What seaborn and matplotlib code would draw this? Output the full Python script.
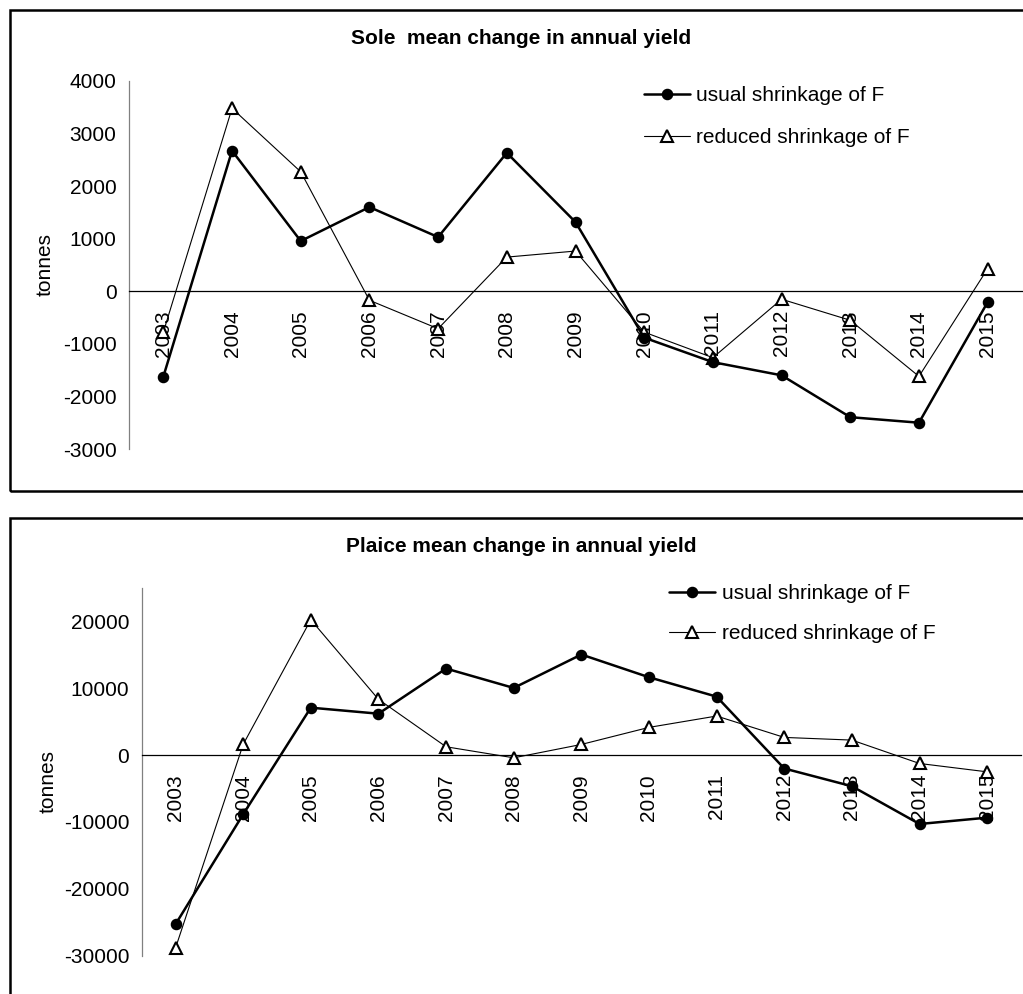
import numpy as np
import pandas as pd
import seaborn as sns
import matplotlib.pyplot as plt
from matplotlib.patches import Rectangle

YEARS = [str(y) for y in range(2003, 2016)]

# Sole, tonnes
sole_usual = [-1620, 2670, 955, 1600, 1030, 2630, 1315, -880, -1345, -1595, -2390, -2495, -205]
sole_reduced = [-775, 3475, 2270, -170, -710, 650, 765, -775, -1260, -150, -550, -1615, 430]

# Plaice, tonnes
plaice_usual = [-25300, -8850, 7100, 6200, 12950, 10050, 15050, 11650, 8750, -2000, -4650, -10300, -9350]
plaice_reduced = [-28850, 1600, 20250, 8350, 1250, -400, 1600, 4150, 5850, 2650, 2250, -1250, -2500]

LABELS = ["usual shrinkage of F", "reduced shrinkage of F"]

sns.set_style("white")
plt.rcParams["font.family"] = ["Liberation Sans", "DejaVu Sans"]
plt.rcParams["text.color"] = "black"
plt.rcParams["axes.labelcolor"] = "black"
plt.rcParams["xtick.color"] = "black"
plt.rcParams["ytick.color"] = "black"
FS = 15

W, H = 1023, 994
fig = plt.figure(figsize=(W / 100, H / 100), dpi=100)


def fx(px):
    return px / W


def fy(py):
    return 1 - py / H


def make_df(usual, reduced):
    n = len(YEARS)
    return pd.DataFrame({
        "pos": list(range(n)) * 2,
        "value": usual + reduced,
        "series": [LABELS[0]] * n + [LABELS[1]] * n,
    })


def draw_panel(ax, df, yticks, ylim):
    usual = df[df["series"] == LABELS[0]]
    reduced = df[df["series"] == LABELS[1]]
    sns.lineplot(data=usual, x="pos", y="value", ax=ax, color="black",
                 linewidth=1.8, marker="o", markersize=7.3,
                 markeredgecolor="black", markeredgewidth=1,
                 label=LABELS[0], zorder=4)
    sns.lineplot(data=reduced, x="pos", y="value", ax=ax, color="black",
                 linewidth=0.8, marker="^", markersize=9,
                 markerfacecolor="white", markeredgecolor="black",
                 markeredgewidth=1.5, label=LABELS[1], zorder=3)

    # spines first: moving a spine resets the tick objects
    for side in ["top", "right"]:
        ax.spines[side].set_visible(False)
    ax.spines["bottom"].set_position(("data", 0))
    ax.spines["bottom"].set_color("black")
    ax.spines["bottom"].set_linewidth(0.9)
    ax.spines["left"].set_color("#808080")
    ax.spines["left"].set_linewidth(0.9)

    ax.set_xlim(-0.5, len(YEARS) - 0.5)
    ax.set_ylim(*ylim)
    ax.set_yticks(yticks)
    ax.set_yticklabels([str(v) for v in yticks])

    ax.set_xticks(range(len(YEARS)))
    ax.set_xticklabels(YEARS)
    ax.set_xticks(np.arange(-0.5, len(YEARS), 1), minor=True)
    ax.tick_params(axis="x", which="major", length=0, pad=13.5,
                   labelrotation=90, labelsize=FS, labelcolor="black")
    ax.tick_params(axis="x", which="minor", length=4.5, width=0.8,
                   color="#777777", direction="out")
    ax.tick_params(axis="y", length=5, width=0.8, color="#777777", pad=4,
                   labelsize=FS, labelcolor="black")

    ax.patch.set_alpha(0)
    ax.set_xlabel("")


# --- Sole panel ---
ax1 = fig.add_axes([fx(129), fy(449.3), fx(1022 - 129), fy(80.7) - fy(449.3)])
draw_panel(ax1, make_df(sole_usual, sole_reduced),
           list(range(-3000, 4001, 1000)), (-3000, 4000))
ax1.set_ylabel("tonnes", fontsize=FS)
ax1.yaxis.set_label_coords(-0.083, 0.5)
ax1.legend(loc="upper left", bbox_to_anchor=(fx(634), fy(76)),
           bbox_transform=fig.transFigure, frameon=False, fontsize=FS,
           borderpad=0, handlelength=2.2, handletextpad=0.3, labelspacing=1.09)
fig.text(fx(521), fy(38), "Sole  mean change in annual yield",
         ha="center", va="center", fontsize=FS, fontweight="bold")

# --- Plaice panel ---
ax2 = fig.add_axes([fx(141.7), fy(955.7), fx(1021 - 141.7), fy(588) - fy(955.7)])
draw_panel(ax2, make_df(plaice_usual, plaice_reduced),
           list(range(-30000, 20001, 10000)), (-30000, 25000))
ax2.set_ylabel("tonnes", fontsize=FS)
ax2.yaxis.set_label_coords(-0.096, 0.475)
ax2.legend(loc="upper left", bbox_to_anchor=(fx(659), fy(574)),
           bbox_transform=fig.transFigure, frameon=False, fontsize=FS,
           borderpad=0, handlelength=2.2, handletextpad=0.3, labelspacing=0.99)
fig.text(fx(521), fy(546.5), "Plaice mean change in annual yield",
         ha="center", va="center", fontsize=FS, fontweight="bold")

# outer frames around each chart
fig.add_artist(Rectangle((fx(9.5), fy(491)), fx(1040), fy(9.5) - fy(491),
                         transform=fig.transFigure, fill=False,
                         edgecolor="black", linewidth=1.8))
fig.add_artist(Rectangle((fx(9.5), fy(1010)), fx(1040), fy(517.5) - fy(1010),
                         transform=fig.transFigure, fill=False,
                         edgecolor="black", linewidth=1.8))

plt.savefig("out.png", dpi=100)
